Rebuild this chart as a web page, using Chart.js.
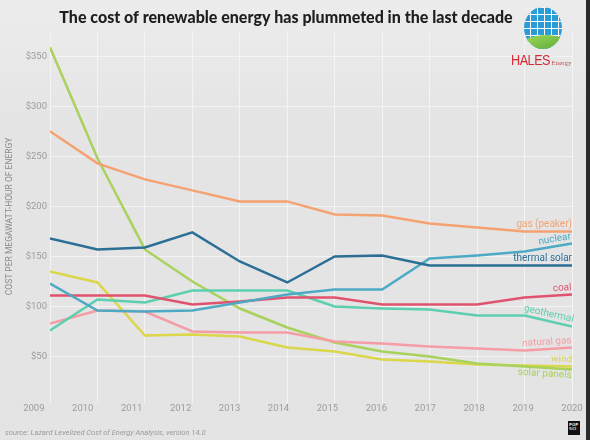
<!DOCTYPE html>
<html>
<head>
<meta charset="utf-8">
<script src="https://cdn.jsdelivr.net/npm/chart.js@4.4.1/dist/chart.umd.min.js"></script>
<style>
  html, body { margin: 0; padding: 0; }
  #wrap { position: relative; width: 590px; height: 440px; background: linear-gradient(#ececec, #e4e4e4 30%, #e4e4e4); overflow: hidden; }
  #chart { position: absolute; left: 0; top: 0; }
  .globe { position: absolute; left: 524px; top: 7px; width: 38px; height: 42px; border-radius: 50%; overflow: hidden; background: #2a9dd6; }
  .globe .grid { position: absolute; left: 0; top: 0; right: 0; bottom: 0;
    background-image: repeating-linear-gradient(90deg, transparent 0 6px, #fff 6px 7px),
                      repeating-linear-gradient(0deg, transparent 0 6px, #fff 6px 7px); }
  .globe .leaf { position: absolute; left: -6px; right: -4px; bottom: -10px; height: 24px; border-radius: 60% 40% 0 0;
    background: linear-gradient(160deg, #a6dc5c, #3f9a2e); }
  .brand { position: absolute; left: 511px; top: 51px; font-family: "Liberation Sans", sans-serif; color: #d42a34; white-space: nowrap; }
  .brand b { font-size: 14px; font-weight: normal; letter-spacing: -0.5px; transform: scaleX(0.9); display: inline-block; transform-origin: left; }
  .brand span { font-family: "Liberation Serif", serif; font-size: 7px; color: #b55; margin-left: -3px; }
  .source { position: absolute; left: 5px; top: 428px; font: italic 7.5px Roboto, sans-serif; color: #9a9a9a; white-space: nowrap; }
  .popsci { position: absolute; left: 568px; top: 421px; width: 12px; height: 14px; background: #111; color: #ddd; font: bold 4px "DejaVu Sans", sans-serif; line-height: 4px; padding: 2px 0 0 1px; box-sizing: border-box; }
  .edge { position: absolute; right: 0; top: 0; width: 4px; height: 440px; background: #2b2b2b; }
</style>
</head>
<body>
<div id="wrap">
  <canvas id="chart" width="590" height="440"></canvas>
  <div class="globe"><div class="grid"></div><div class="leaf"></div></div>
  <div class="brand"><b>HALES</b><span>Energy</span></div>
  <div class="source">source: Lazard Levelized Cost of Energy Analysis, version 14.0</div>
  <div class="popsci">POP<br>SCI</div>
  <div class="edge"></div>
</div>
<script>
// data (cost per MWh, US$)
const years = [2009, 2010, 2011, 2012, 2013, 2014, 2015, 2016, 2017, 2018, 2019, 2020];
const costTicks = [50, 100, 150, 200, 250, 300, 350];

const gasPeaker    = [275, 243, 227, 216, 205, 205, 192, 191, 183, 179, 175, 175];
const nuclear      = [123, 96, 95, 96, 104, 112, 117, 117, 148, 151, 155, 163];
const thermalSolar = [168, 157, 159, 174, 145, 124, 150, 151, 141, 141, 141, 141];
const coal         = [111, 111, 111, 102, 105, 109, 109, 102, 102, 102, 109, 112];
const geothermal   = [76, 107, 104, 116, 116, 116, 100, 98, 97, 91, 91, 80];
const naturalGas   = [83, 96, 95, 75, 74, 74, 65, 63, 60, 58, 56, 59];
const wind         = [135, 124, 71, 72, 70, 59, 55, 47, 45, 42, 41, 40];
const solarPanels  = [359, 248, 157, 125, 98, 79, 64, 55, 50, 43, 40, 37];

function series(label, values, color, below) {
  return {
    label: label,
    data: values.map((v, i) => ({ x: years[i], y: v })),
    borderColor: color,
    borderWidth: 2.5,
    pointRadius: 0,
    tension: 0,
    fill: false,
    below: below || false
  };
}

// names at the end of every line
const endLabels = {
  id: 'endLabels',
  afterDatasetsDraw(chart) {
    const ctx = chart.ctx;
    chart.data.datasets.forEach((ds, i) => {
      const pts = chart.getDatasetMeta(i).data;
      const a = pts[pts.length - 2], b = pts[pts.length - 1];
      const angle = Math.atan2(b.y - a.y, b.x - a.x);
      ctx.save();
      ctx.translate(b.x, b.y);
      ctx.rotate(angle);
      ctx.font = '10px Roboto, sans-serif';
      ctx.fillStyle = ds.borderColor;
      ctx.textAlign = 'right';
      if (ds.below) {
        ctx.textBaseline = 'top';
        ctx.fillText(ds.label, 0, 1);
      } else {
        ctx.textBaseline = 'bottom';
        ctx.fillText(ds.label, 0, -2);
      }
      ctx.restore();
    });
  }
};

new Chart(document.getElementById('chart'), {
  type: 'line',
  data: {
    datasets: [
      series('gas (peaker)', gasPeaker, '#f5a273'),
      series('thermal solar', thermalSolar, '#2b6f97'),
      series('nuclear', nuclear, '#4eaac4'),
      series('coal', coal, '#e0536f'),
      series('geothermal', geothermal, '#5dcfb0'),
      series('natural gas', naturalGas, '#f59ca6'),
      series('solar panels', solarPanels, '#a8d25c', true),
      series('wind', wind, '#dbd64a')
    ]
  },
  plugins: [endLabels],
  options: {
    responsive: false,
    animation: false,
    layout: { padding: { left: 0, right: 18, top: 0, bottom: 26 } },
    plugins: {
      legend: { display: false },
      tooltip: { enabled: false },
      title: {
        display: true,
        text: 'The cost of renewable energy has plummeted in the last decade',
        color: '#1e1e1e',
        font: { family: 'Lato', size: 16, weight: 900, lineHeight: 1.2 },
        padding: { top: 8, bottom: 3 }
      }
    },
    scales: {
      x: {
        type: 'linear',
        min: 2009,
        max: 2020,
        ticks: { display: false, stepSize: 1 },
        grid: { color: '#f4f4f4', lineWidth: 1, drawTicks: false },
        border: { display: false }
      },
      // year labels sit on their own scale, a little wider than the data
      x2: {
        type: 'linear',
        position: 'bottom',
        min: 2009.33,
        max: 2020,
        afterBuildTicks: axis => { axis.ticks = years.map(v => ({ value: v })); },
        ticks: {
          autoSkip: false,
          padding: 0,
          maxRotation: 0,
          color: '#9d9d9d',
          font: { family: 'Roboto', size: 9.5 },
          callback: v => String(v)
        },
        grid: { display: false, drawTicks: false },
        border: { display: false }
      },
      y: {
        min: 4,
        max: 376,
        afterBuildTicks: axis => { axis.ticks = costTicks.map(v => ({ value: v })); },
        afterFit: axis => { axis.width = 50; },
        ticks: {
          padding: 3,
          color: '#9d9d9d',
          font: { family: 'Roboto', size: 9.5 },
          callback: v => '$' + v
        },
        grid: { color: '#f4f4f4', lineWidth: 1, drawTicks: false },
        border: { display: false },
        title: {
          display: true,
          text: 'COST PER MEGAWATT-HOUR OF ENERGY',
          color: '#8a8a8a',
          font: { family: 'Roboto', size: 8.5 },
          padding: { top: 5, bottom: 0 }
        }
      }
    }
  }
});
</script>
</body>
</html>
